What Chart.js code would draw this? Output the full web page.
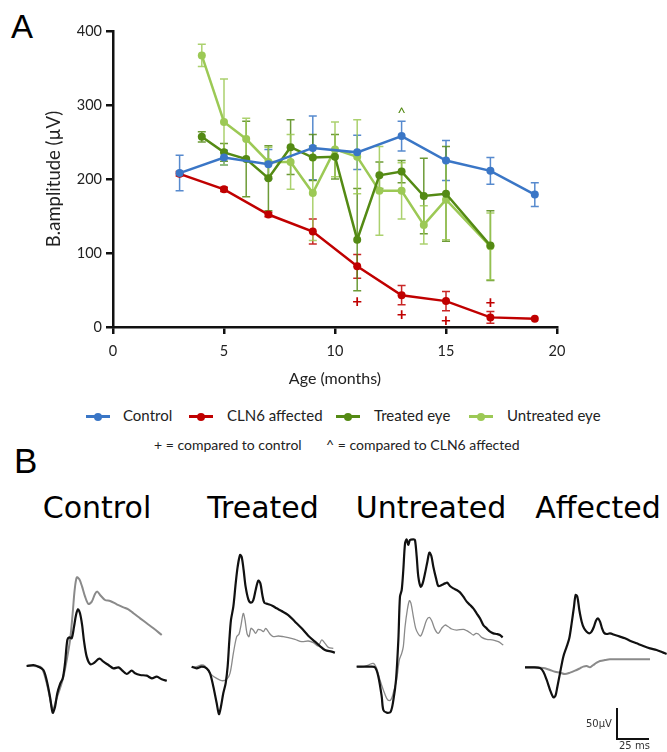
<!DOCTYPE html>
<html>
<head>
<meta charset="utf-8">
<script src="https://cdn.jsdelivr.net/npm/chart.js@4.4.1/dist/chart.umd.min.js"></script>
<style>
  body { margin: 0; background: #fff; }
  #page { position: relative; width: 667px; height: 752px; overflow: hidden; font-family: Lato, sans-serif; color: #222; }
  canvas { position: absolute; }
  .abs { position: absolute; white-space: nowrap; }
  .panel { font-family: "Liberation Sans", sans-serif; font-size: 33px; color: #000; }
  .trace-title { font-family: "DejaVu Sans", sans-serif; font-size: 30px; color: #000; transform: translateX(-50%); }
  .leg-line { position: absolute; height: 3px; width: 24px; }
  .leg-dot { position: absolute; width: 8px; height: 8px; border-radius: 50%; }
  .leg-text { font-size: 15px; }
</style>
</head>
<body>
<div id="page">
  <div class="abs panel" style="left:11px; top:8px;">A</div>
  <canvas id="lineChart" width="667" height="400" style="left:0; top:0;"></canvas>

  <div id="legend"></div>
  <div class="abs" style="left:154px; top:436px; font-size:14px;">+ = compared to control</div>
  <div class="abs" style="left:326px; top:436px; font-size:14px;">^ = compared to CLN6 affected</div>

  <div class="abs panel" style="left:14px; top:441px; font-size:35px;">B</div>
  <div class="abs trace-title" style="left:97px; top:490px;">Control</div>
  <div class="abs trace-title" style="left:263px; top:490px;">Treated</div>
  <div class="abs trace-title" style="left:431px; top:490px;">Untreated</div>
  <div class="abs trace-title" style="left:598px; top:490px;">Affected</div>

  <canvas id="ergControl" width="155" height="160" style="left:20px; top:560px;"></canvas>
  <canvas id="ergTreated" width="155" height="180" style="left:185px; top:540px;"></canvas>
  <canvas id="ergUntreated" width="160" height="190" style="left:350px; top:530px;"></canvas>
  <canvas id="ergAffected" width="157" height="172" style="left:510px; top:580px;"></canvas>

  <!-- scale bar -->
  <div class="abs" style="left:616px; top:708px; width:2px; height:32px; background:#111;"></div>
  <div class="abs" style="left:616px; top:738px; width:33px; height:2px; background:#111;"></div>
  <div class="abs" style="left:586px; top:718px; font-family:'DejaVu Sans',sans-serif; font-size:10px; color:#333;">50µV</div>
  <div class="abs" style="left:619px; top:740px; font-family:'DejaVu Sans',sans-serif; font-size:10px; color:#333;">25 ms</div>
</div>

<script>
// ---- panel A: b-wave amplitude by age ----
const controlAges = [3, 5, 7, 9, 11, 13, 15, 17, 19];
const controlAmp = [208, 229, 220, 242, 236, 258, 225, 211, 179];
const controlErr = [24, 10, 20, 43, 23, 20, 27, 18, 16];

const affectedAges = [3, 5, 7, 9, 11, 13, 15, 17, 19];
const affectedAmp = [207, 186, 152, 129, 82, 43, 35, 13, 11];
const affectedErr = [3, 3, 3, 17, 16, 13, 13, 8, 0];

const treatedAges = [4, 5, 6, 7, 8, 9, 10, 11, 12, 13, 14, 15, 17];
const treatedAmp = [257, 236, 227, 201, 243, 229, 230, 118, 205, 210, 177, 180, 110];
const treatedErr = [7, 12, 51, 44, 37, 31, 30, 69, 18, 15, 51, 64, 47];

const untreatedAges = [4, 5, 6, 7, 8, 9, 10, 11, 12, 13, 14, 15, 17];
const untreatedAmp = [367, 277, 254, 223, 223, 181, 240, 230, 184, 184, 138, 172, 109];
const untreatedErr = [15, 58, 28, 20, 37, 64, 37, 50, 60, 38, 26, 54, 45];

// significance marks
const plusAges = [11, 13, 15, 17];
const plusAmp = [35, 17, 9, 33];
const caretAges = [13];
const caretAmp = [293];

const xTicks = [0, 5, 10, 15, 20];
const yTicks = [0, 100, 200, 300, 400];

const seriesNames = ['Control', 'CLN6 affected', 'Treated eye', 'Untreated eye'];
const seriesColors = ['#3a76c6', '#c00000', '#548a14', '#9cc955'];

// ---- panel B: ERG traces, [ms, µV] ----
const controlBlack = [[0,0],[5.4,1.6],[9.4,-1.1],[13.5,-6.5],[16.1,-22.6],[18.8,-49.5],[21,-75.3],[22.9,-65.6],[24.7,-44.1],[26.9,-29.1],[29.1,-19.9],[30.9,4.3],[32.8,42],[34.4,46.3],[36.3,44.7],[38.2,63.5],[39.8,82.3],[41.4,91.5],[43,85],[44.7,66.2],[46.3,39.3],[48.4,15.1],[51.1,3.2],[53.8,4.3],[58.6,11.8],[61.9,7],[65.9,1.6],[69.9,-3.8],[74,-2.2],[76.7,-6.5],[80.7,-12.9],[84.7,-7.5],[87.4,-11.8],[91.5,-14.5],[96.8,-15.6],[100.9,-19.9],[104.9,-17.2],[108.9,-21.5],[113,-23.7]];
const controlGrey = [[0,0],[10.8,-1.1],[14,-11.8],[17.5,-38.7],[20.2,-65.6],[21.5,-71],[23.7,-54.9],[26.9,-36],[29.6,-17.2],[32.3,9.7],[35,42],[37.1,85],[38.7,122.7],[40.4,143.1],[42.5,139.9],[44.7,128],[47.1,111.9],[49.8,100.1],[52.5,103.8],[55.1,116.2],[57,120],[59.2,114.6],[63.2,106.5],[67.3,104.9],[72.6,99.5],[78,94.7],[82,91.5],[86.1,85],[91.5,76.9],[96.8,68.9],[102.2,60.8],[108.9,50]];

const treatedBlack = [[0,0],[4,-2.7],[8.1,0],[12.1,-2.7],[14.8,-10.8],[17.5,-32.3],[20.2,-59.1],[22,-76.4],[23.6,-64.5],[25.5,-43],[27.4,-26.9],[29,0],[30.4,43],[31.7,75.3],[33.6,96.8],[35.5,134.4],[37.1,161.3],[39,180.1],[40.3,177.4],[41.9,155.9],[43.5,129],[45.7,108.6],[47.8,103.2],[49.7,107.5],[51.6,123.7],[53.7,138.7],[55.4,134.4],[57,115.6],[58.6,103.2],[61.3,101.1],[65,98.4],[68.5,94.1],[72.5,89.8],[77.9,83.3],[83.3,72.6],[88.7,61.8],[94,50],[99.4,40.3],[103.4,33.3],[107.5,26.9],[112.9,24.2],[115.5,22.6]];
const treatedGrey = [[0,-1.1],[4,0],[8.1,2.7],[10.7,1.1],[13.4,-6.5],[16.1,-13.4],[20.2,-18.8],[24.2,-22.6],[28.2,-20.4],[30.9,-10.8],[33.6,21.5],[36.3,48.4],[38.2,52.7],[39.8,67.2],[41.6,86],[43,75.3],[44.6,53.8],[46.2,48.4],[47.8,61.8],[49.7,59.1],[51.6,53.8],[53.7,60.2],[55.9,59.1],[57.8,56.5],[59.7,61.8],[61.8,56.5],[63.9,51.1],[65.8,48.4],[69.9,49.5],[73.9,48.4],[77.9,46.8],[83.3,44.1],[88.7,40.3],[94,41.4],[98.1,38.7],[102.1,33.3],[104.8,43],[107.5,37.6],[110.2,31.2],[114.2,29.6]];

const untreatedBlack = [[0,0],[5.4,0],[10.7,0],[14.8,-1.1],[17.5,-16.1],[20.2,-48.4],[21.5,-69.9],[24.2,-74.2],[27.4,-72.6],[29.6,-53.8],[31.7,-21.5],[33.6,43],[34.9,112.9],[36.3,123.7],[37.6,155.9],[39,199],[40.3,205.4],[41.6,196.3],[43,204.3],[45.7,205.4],[47,204.3],[48.4,177.4],[49.7,145.2],[51.6,129],[53.2,134.4],[55.1,150.6],[57,169.4],[58.6,183.9],[60.2,178.5],[61.8,161.3],[64,142.5],[65.8,130.1],[68.5,131.7],[71.2,134.4],[73.1,135.5],[75.2,130.1],[77.9,126.4],[80.6,123.7],[83.3,119.9],[86,112.9],[88.7,104.9],[91.4,99.5],[94,94.1],[96.7,86],[99.4,78],[102.1,67.2],[104.8,61.8],[107.5,56.5],[110.2,53.8],[112.9,52.7],[115.5,51.1],[117.7,47.3]];
const untreatedGrey = [[0,0],[5.4,0],[9.4,2.7],[13.4,5.4],[16.1,-2.7],[18.8,-21.5],[21.5,-37.6],[24.2,-51.1],[26.3,-54.8],[28.2,-51.1],[30.1,-37.6],[32.2,-21.5],[34.4,10.8],[36.3,21.5],[37.6,32.3],[39,64.5],[40.8,91.4],[42.5,106.5],[43.8,102.2],[45.7,80.7],[47.6,61.8],[49.7,52.7],[51.6,49.5],[53.7,59.1],[56.4,75.3],[58.6,79.6],[60.5,74.2],[63.1,60.2],[65.8,53.8],[68.5,61.8],[71.2,67.2],[73.9,64.5],[76.6,60.8],[80.6,59.1],[86,60.2],[88.7,58.1],[91.4,54.8],[94,51.1],[96.2,53.8],[98.1,52.7],[100.8,47.3],[104.8,44.1],[110.2,43],[114.2,40.3],[118.2,35]];

const affectedBlack = [[0,0],[6.7,0],[12.1,-1.1],[14.8,-7],[17.5,-20.4],[20.2,-36.6],[22.8,-48.4],[24.5,-46.2],[26.1,-31.2],[28.2,-9.7],[30.9,17.2],[33.6,33.3],[35.7,46.8],[37.6,71],[39.5,97.9],[40.8,116.7],[42.2,114],[43.8,92.5],[45.7,73.7],[47.6,62.9],[49.7,57.5],[51.9,54.8],[53.7,57.5],[55.6,65.6],[57.2,75.3],[58.8,79],[60.5,73.7],[62.1,62.9],[63.7,55.9],[65.8,53.8],[68.5,54.8],[72.5,52.2],[76.6,49.5],[80.6,46.8],[84.6,43],[90,38.7],[95.4,34.4],[100.8,30.6],[106.1,28],[111.5,23.7],[114.2,21.5]];
const affectedGrey = [[0,0],[6.7,0],[12.1,-0.5],[16.1,-1.6],[20.2,-4.3],[24.2,-7],[28.2,-8.6],[32.2,-10.8],[36.3,-8.6],[40.3,-5.4],[44.3,-1.6],[47,1.1],[49.7,2.2],[52.4,0],[55.1,3.8],[57.8,7.5],[60.5,10.2],[64.5,11.8],[68.5,12.9],[76.6,12.9],[87.3,12.9],[100.8,12.9]];

// ---------------------------------------------------------------
const toPoints = (xs, ys) => xs.map((x, i) => ({ x: x, y: ys[i] }));

function makeSeries(i, ages, amp, err) {
    return {
        label: seriesNames[i],
        data: toPoints(ages, amp),
        errors: err,
        borderColor: seriesColors[i],
        backgroundColor: seriesColors[i],
        borderWidth: 2.5,
        pointRadius: 4,
        pointBorderWidth: 0,
        tension: 0
    };
}

const errorBars = {
    id: 'errorBars',
    beforeDatasetsDraw(chart) {
        const { ctx, scales: { x, y } } = chart;
        chart.data.datasets.forEach(ds => {
            if (!ds.errors) return;
            ctx.save();
            ctx.strokeStyle = ds.borderColor;
            ctx.globalAlpha = 0.85;
            ctx.lineWidth = 1.5;
            ds.data.forEach((p, j) => {
                const e = ds.errors[j];
                if (!e) return;
                const px = x.getPixelForValue(p.x);
                const top = y.getPixelForValue(p.y + e);
                const bot = y.getPixelForValue(p.y - e);
                ctx.beginPath();
                ctx.moveTo(px, top); ctx.lineTo(px, bot);
                ctx.moveTo(px - 4, top); ctx.lineTo(px + 4, top);
                ctx.moveTo(px - 4, bot); ctx.lineTo(px + 4, bot);
                ctx.stroke();
            });
            ctx.restore();
        });
    }
};

const sigMarks = {
    id: 'sigMarks',
    afterDatasetsDraw(chart) {
        const { ctx, scales: { x, y } } = chart;
        ctx.save();
        ctx.textAlign = 'center';
        ctx.textBaseline = 'middle';
        ctx.font = 'bold 17px Lato';
        ctx.fillStyle = seriesColors[1];
        plusAges.forEach((a, i) => ctx.fillText('+', x.getPixelForValue(a), y.getPixelForValue(plusAmp[i])));
        ctx.font = '15px Lato';
        ctx.fillStyle = seriesColors[2];
        caretAges.forEach((a, i) => ctx.fillText('^', x.getPixelForValue(a), y.getPixelForValue(caretAmp[i]) + 3));
        ctx.restore();
    }
};

const axisFont = { family: 'Lato', size: 14.5 };

new Chart(document.getElementById('lineChart'), {
    type: 'line',
    data: {
        datasets: [
            makeSeries(0, controlAges, controlAmp, controlErr),
            makeSeries(1, affectedAges, affectedAmp, affectedErr),
            makeSeries(2, treatedAges, treatedAmp, treatedErr),
            makeSeries(3, untreatedAges, untreatedAmp, untreatedErr)
        ]
    },
    options: {
        responsive: false,
        animation: false,
        layout: { padding: { top: 31, right: 110, left: 0, bottom: 0 } },
        plugins: { legend: { display: false }, tooltip: { enabled: false } },
        scales: {
            x: {
                type: 'linear',
                min: xTicks[0],
                max: xTicks[xTicks.length - 1],
                afterBuildTicks: s => { s.ticks = xTicks.map(v => ({ value: v })); },
                afterFit: s => { s.height = 73; },
                grid: { drawOnChartArea: false, tickLength: 7, lineWidth: 2.5, color: '#111' },
                border: { color: '#111', width: 2.5 },
                ticks: { color: '#222', font: axisFont, padding: 9 },
                title: { display: true, text: 'Age (months)', color: '#222', font: { family: 'Lato', size: 16 }, padding: { top: 0, bottom: 12 } }
            },
            y: {
                min: yTicks[0],
                max: yTicks[yTicks.length - 1],
                afterBuildTicks: s => { s.ticks = yTicks.map(v => ({ value: v })); },
                afterFit: s => { s.width = 113; },
                grid: { drawOnChartArea: false, tickLength: 7, lineWidth: 2.5, color: '#111' },
                border: { color: '#111', width: 2.5 },
                ticks: { color: '#222', font: axisFont, padding: 4 },
                title: { display: true, text: 'B.amplitude (µV)', color: '#222', font: { family: 'Lato', size: 18.5 }, padding: { top: 43, bottom: 0 } }
            }
        }
    },
    plugins: [errorBars, sigMarks]
});

// html legend (line with dot, like the original)
const legendSpots = [[86, 123], [189, 227], [336, 374], [469, 507]];
const legend = document.getElementById('legend');
seriesNames.forEach((name, i) => {
    const [lx, tx] = legendSpots[i];
    legend.insertAdjacentHTML('beforeend',
        `<div class="leg-line" style="left:${lx}px; top:415px; background:${seriesColors[i]}"></div>` +
        `<div class="leg-dot" style="left:${lx + 8}px; top:412.5px; background:${seriesColors[i]}"></div>` +
        `<div class="abs leg-text" style="left:${tx}px; top:406px;">${name}</div>`);
});

// ---- ERG panels ----
function ergChart(id, black, grey, greyWidth, range) {
    const toXY = arr => arr.map(p => ({ x: p[0], y: p[1] }));
    new Chart(document.getElementById(id), {
        type: 'line',
        data: {
            datasets: [
                { data: toXY(black), borderColor: '#111', borderWidth: 2.2, tension: 0.3 },
                { data: toXY(grey), borderColor: '#8a8a8a', borderWidth: greyWidth, tension: 0.3 }
            ]
        },
        options: {
            responsive: false,
            animation: false,
            layout: { padding: 0 },
            datasets: { line: { clip: false, pointRadius: 0 } },
            plugins: { legend: { display: false }, tooltip: { enabled: false } },
            scales: {
                x: { type: 'linear', display: false, min: range[0], max: range[1] },
                y: { display: false, min: range[2], max: range[3] }
            }
        }
    });
}

ergChart('ergControl', controlBlack, controlGrey, 2, [-5.37, 119.6, -87.1, 171.0]);
ergChart('ergTreated', treatedBlack, treatedGrey, 1.3, [-5.37, 119.6, -86.0, 204.3]);
ergChart('ergUntreated', untreatedBlack, untreatedGrey, 1.3, [-5.37, 123.6, -86.0, 220.5]);
ergChart('ergAffected', affectedBlack, affectedGrey, 2, [-12.1, 114.5, -136.6, 140.9]);
</script>
</body>
</html>
